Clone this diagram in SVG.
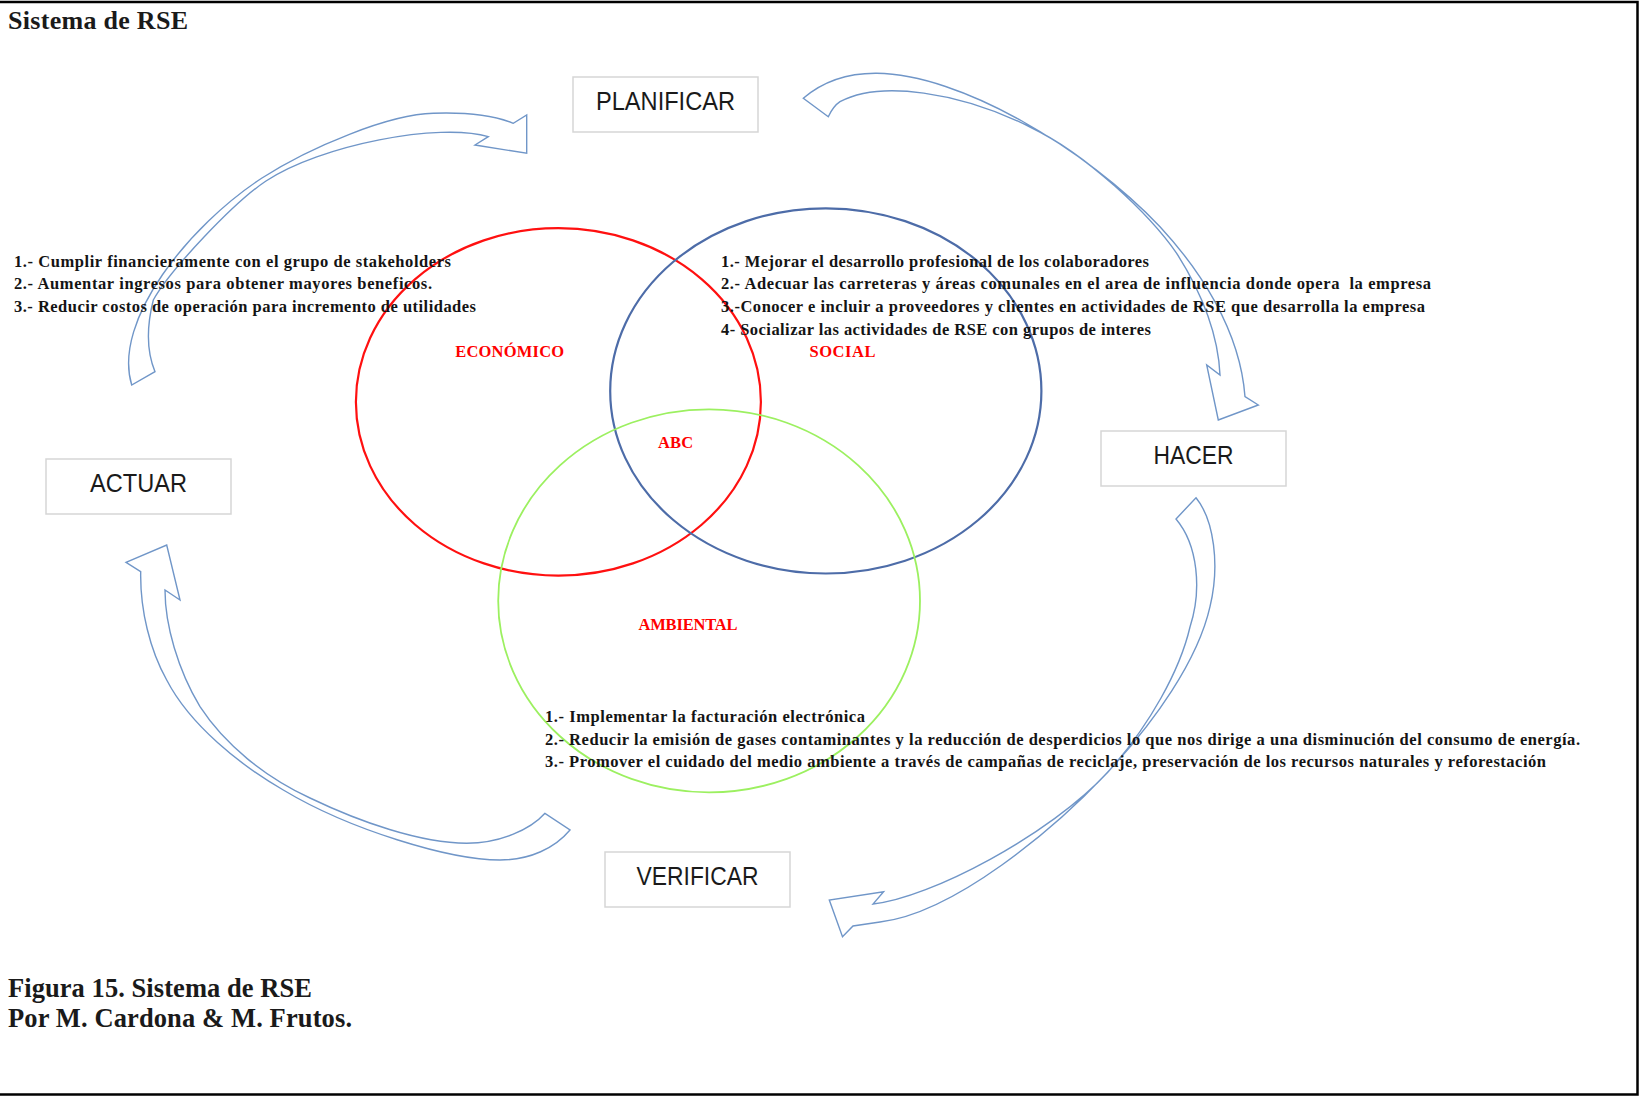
<svg xmlns="http://www.w3.org/2000/svg" width="1641" height="1096" viewBox="0 0 1641 1096">
<defs>
<style>
.bg{fill:#ffffff}
.frame{fill:none;stroke:#000;stroke-width:2.5}
.box{fill:#ffffff;stroke:#d6d6d6;stroke-width:1.5}
.nlabel{font-family:"Liberation Sans",Arial,sans-serif;font-size:25px;fill:#1a1a1a;text-anchor:middle}
.arrow{fill:none;stroke:#7096c8;stroke-width:1.4;stroke-linejoin:miter}
.ring{fill:none}
.red{stroke:#ff1010;stroke-width:2.2}
.blue{stroke:#4d6ca8;stroke-width:2.2}
.green{stroke:#9cf060;stroke-width:1.8}
.tag{font-family:"Liberation Serif","Times New Roman",serif;font-weight:bold;font-size:16.5px;fill:#ff0000;text-anchor:middle}
.item{font-family:"Liberation Serif","Times New Roman",serif;font-weight:bold;font-size:16.5px;fill:#141414;white-space:pre}
.title{font-family:"Liberation Serif","Times New Roman",serif;font-weight:bold;fill:#1a1a1a}
</style>
</defs>
<rect class="bg" x="0" y="0" width="1641" height="1096"/>
<path class="frame" d="M0,2 H1637.5 V1094.5 H0"/>

<text class="title" x="8" y="29" font-size="26" textLength="180">Sistema de RSE</text>

<g id="connectors">
  <path id="arrow-actuar-planificar" class="arrow" d="M131.7,385 C112,320 190,225 262,178 C310,147 390,114 433.3,113.3 C470,112 495,116 513.3,123.3 L526.7,115 L526.7,153.3 L475,145 L488.3,136.7 C440,122 320,145 266,181 C233.6,202.6 170,270 153.3,300 C147,325 146,350 155,371.7 Z"/>
  <path id="arrow-planificar-hacer" class="arrow" d="M803.3,98.3 C820,84 845,73 876.7,73.3 C960,74 1085,148 1160,226.7 C1200,270 1240,330 1245,396.7 L1258.3,405 L1218.3,420 L1206.7,365 L1220,375 C1218,330 1200,290 1176.7,253.3 C1150,215 1088,155 1030,127 C960,92 880,80 840,101.7 C835,105 831,111 828.3,116.7 Z"/>
  <path id="arrow-hacer-verificar" class="arrow" d="M1196,497.7 C1214,520 1220,565 1210,606.7 C1198,660 1155,722 1105,775 C1055,828 955,913 880,922 L853,926 L842.5,936.7 L829.3,900 L883.6,891.7 L873,904 C930,898 1050,835 1108,772 C1150,725 1180,670 1190,627 C1202,590 1198,545 1176,519 Z"/>
  <path id="arrow-verificar-actuar" class="arrow" d="M570,830 C555,848 530,860 500,860 C450,860 350,830 283.3,790 C240,765 190,725 166.7,680 C150,650 140,610 140.7,571.7 L126,562.3 L166.7,545 L180,600 L165,590 C165,625 178,670 200,706.7 C225,745 265,777 310,798 C360,822 420,843 466.7,843.3 C500,843 530,830 545,813.3 Z"/>
</g>

<g id="venn">
  <g id="economico">
    <ellipse class="ring red" cx="558.4" cy="401.9" rx="202.5" ry="173.7"/>
    <text class="tag" x="509.7" y="357.4" textLength="109">ECONÓMICO</text>
  </g>
  <g id="social">
    <ellipse class="ring blue" cx="825.8" cy="390.9" rx="215.6" ry="182.6"/>
    <text class="tag" x="842.5" y="357.4" textLength="66">SOCIAL</text>
  </g>
  <g id="ambiental">
    <ellipse class="ring green" cx="709.1" cy="600.8" rx="210.9" ry="191.5"/>
    <text class="tag" x="688" y="630" textLength="99">AMBIENTAL</text>
  </g>
  <g id="abc">
    <text class="tag" x="675.6" y="448" textLength="35">ABC</text>
  </g>
</g>

<g id="node-planificar">
  <rect class="box" x="573" y="77" width="185" height="55"/>
  <text class="nlabel" x="665.5" y="110" textLength="139" lengthAdjust="spacingAndGlyphs">PLANIFICAR</text>
</g>
<g id="node-hacer">
  <rect class="box" x="1101" y="431" width="185" height="55"/>
  <text class="nlabel" x="1193.5" y="463.5" textLength="80" lengthAdjust="spacingAndGlyphs">HACER</text>
</g>
<g id="node-actuar">
  <rect class="box" x="46" y="459" width="185" height="55"/>
  <text class="nlabel" x="138.5" y="491.7" textLength="97" lengthAdjust="spacingAndGlyphs">ACTUAR</text>
</g>
<g id="node-verificar">
  <rect class="box" x="605" y="852" width="185" height="55"/>
  <text class="nlabel" x="697.5" y="884.5" textLength="122" lengthAdjust="spacingAndGlyphs">VERIFICAR</text>
</g>

<g id="list-economico">
  <text class="item" x="14" y="266.6" textLength="437">1.- Cumplir financieramente con el grupo de stakeholders</text>
  <text class="item" x="14" y="289.3" textLength="418">2.- Aumentar ingresos para obtener mayores beneficos.</text>
  <text class="item" x="14" y="312" textLength="462">3.- Reducir costos de operación para incremento de utilidades</text>
</g>

<g id="list-social">
  <text class="item" x="721" y="266.6" textLength="428">1.- Mejorar el desarrollo profesional de los colaboradores</text>
  <text class="item" x="721" y="289.3" textLength="710">2.- Adecuar las carreteras y áreas comunales en el area de influencia donde opera  la empresa</text>
  <text class="item" x="721" y="312" textLength="704">3.-Conocer e incluir a proveedores y clientes en actividades de RSE que desarrolla la empresa</text>
  <text class="item" x="721" y="335" textLength="430">4- Socializar las actividades de RSE con grupos de interes</text>
</g>

<g id="list-ambiental">
  <text class="item" x="545" y="721.7" textLength="320">1.- Implementar la facturación electrónica</text>
  <text class="item" x="545" y="744.5" textLength="1035">2.- Reducir la emisión de gases contaminantes y la reducción de desperdicios lo que nos dirige a una disminución del consumo de energía.</text>
  <text class="item" x="545" y="766.7" textLength="1001">3.- Promover el cuidado del medio ambiente a través de campañas de reciclaje, preservación de los recursos naturales y reforestación</text>
</g>

<g id="caption">
  <text class="title" x="8" y="997" font-size="26.5" textLength="304">Figura 15. Sistema de RSE</text>
  <text class="title" x="8" y="1027" font-size="26.5" textLength="344">Por M. Cardona &amp; M. Frutos.</text>
</g>
</svg>
